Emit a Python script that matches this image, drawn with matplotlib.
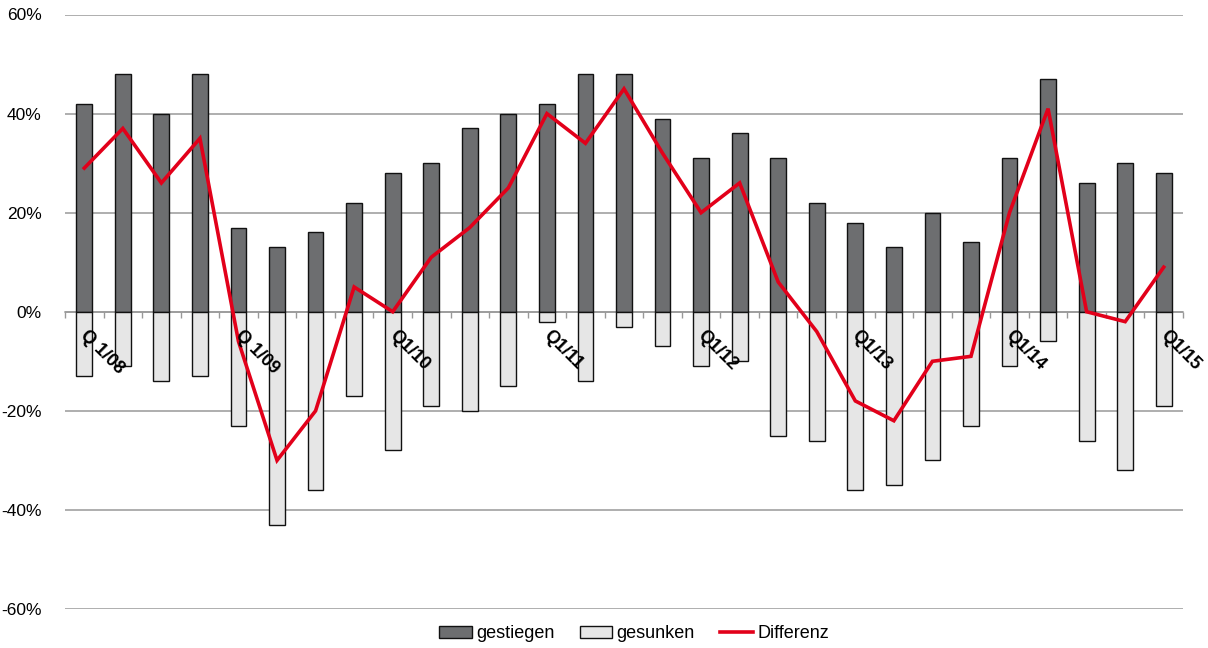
import matplotlib
matplotlib.use('Agg')
import matplotlib.pyplot as plt
import matplotlib.patches as mpatches
import matplotlib.lines as mlines
import numpy as np

plt.rcParams['font.family'] = ['Liberation Sans', 'DejaVu Sans']

# Quarterly data Q1/08 .. Q1/15
quarters = ['Q 1/08', '', '', '', 'Q 1/09', '', '', '', 'Q1/10', '', '', '',
            'Q1/11', '', '', '', 'Q1/12', '', '', '', 'Q1/13', '', '', '',
            'Q1/14', '', '', '', 'Q1/15']
gestiegen = [42, 48, 40, 48, 17, 13, 16, 22, 28, 30, 37, 40, 42, 48, 48,
             39, 31, 36, 31, 22, 18, 13, 20, 14, 31, 47, 26, 30, 28]
gesunken = [-13, -11, -14, -13, -23, -43, -36, -17, -28, -19, -20, -15, -2, -14, -3,
            -7, -11, -10, -25, -26, -36, -35, -30, -23, -11, -6, -26, -32, -19]
differenz = [29, 37, 26, 35, -6, -30, -20, 5, 0, 11, 17, 25, 40, 34, 45,
             32, 20, 26, 6, -4, -18, -22, -10, -9, 20, 41, 0, -2, 9]

c_up = '#6d6e70'
c_down = '#e6e6e6'
c_red = '#e2001a'
c_grid = '#999999'

fig = plt.figure(figsize=(12.08, 6.48), dpi=100)
ax = fig.add_axes([65 / 1208, 1 - 609 / 648, (1183 - 65) / 1208, (609 - 14.5) / 648])

x = np.arange(len(quarters))
ax.bar(x, gestiegen, width=0.41, color=c_up, edgecolor='#111111', linewidth=1, zorder=3)
ax.bar(x, gesunken, width=0.41, color=c_down, edgecolor='#111111', linewidth=1, zorder=3)
ax.plot(x, differenz, color=c_red, linewidth=2.6, zorder=4, solid_joinstyle='miter')

ax.set_xlim(-0.5, len(quarters) - 0.5)
ax.set_ylim(-60, 60)
ax.set_yticks(np.arange(-60, 61, 20))
ax.set_yticklabels([f'{v}%' for v in range(-60, 61, 20)], fontsize=12.5)
ax.yaxis.grid(True, color=c_grid, linewidth=1.1, zorder=0)
ax.tick_params(axis='y', length=0, pad=17)

for s in ['top', 'right', 'left']:
    ax.spines[s].set_visible(False)
ax.spines['bottom'].set_position(('data', 0))
ax.spines['bottom'].set_color(c_grid)
ax.spines['bottom'].set_linewidth(1.1)
ax.spines['bottom'].set_zorder(2)
ax.set_xticks(np.arange(-0.5, len(quarters), 1.0))
ax.set_xticklabels([])
ax.tick_params(axis='x', direction='out', length=4, color=c_grid, width=1)

for i, lab in enumerate(quarters):
    if lab:
        ax.text(i - 0.02, -4.3, lab, rotation=-45, rotation_mode='anchor', ha='left', va='center',
                fontsize=13, fontweight='bold', zorder=5)

handles = [
    mpatches.Patch(facecolor=c_up, edgecolor='#111111', linewidth=1, label='gestiegen'),
    mpatches.Patch(facecolor=c_down, edgecolor='#111111', linewidth=1, label='gesunken'),
    mlines.Line2D([], [], color=c_red, linewidth=2.6, label='Differenz'),
]
fig.legend(handles=handles, loc='center', bbox_to_anchor=(634 / 1208, 14 / 648), ncol=3,
           frameon=False, fontsize=13, handlelength=1.8, handletextpad=0.25,
           columnspacing=1.4, handleheight=0.6)

plt.savefig('out.png', dpi=100)
